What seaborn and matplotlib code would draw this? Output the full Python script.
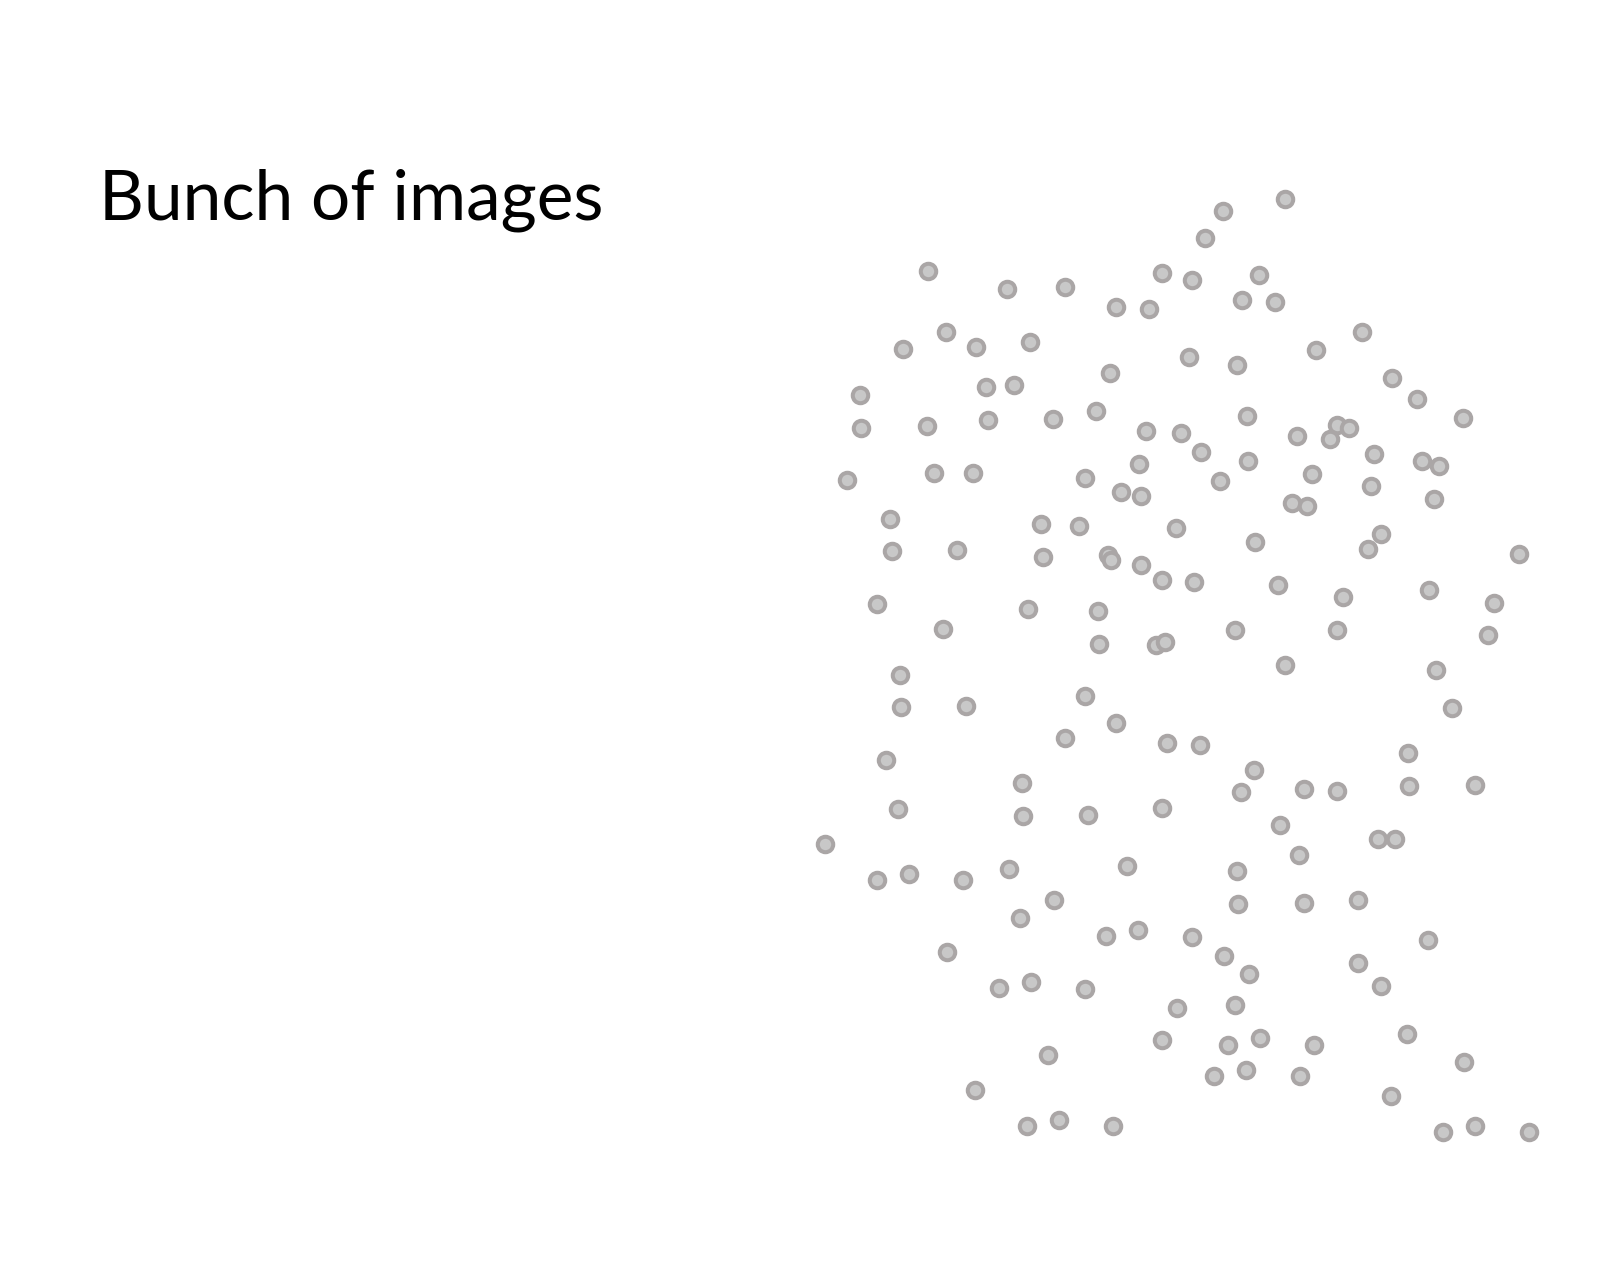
import matplotlib
matplotlib.use("Agg")
import matplotlib.pyplot as plt
import seaborn as sns

# positions of the image dots (pixels, y downwards)
img_x = [
    928, 1007, 1065, 1162, 1116, 1149, 946, 903, 976, 1030,
    1110, 860, 986, 1014, 861, 927, 988, 1053, 1096, 1146,
    1181, 847, 934, 973, 1085, 1139, 1121, 1141,
    1285, 1223, 1205, 1192, 1259, 1242, 1275, 1362, 1316, 1189,
    1237, 1392, 1417, 1463, 1247, 1337, 1349, 1330, 1297, 1201,
    1248, 1374, 1422, 1439, 1220, 1312, 1371, 1292, 1307, 1434,
    890, 1041, 1079, 1176, 892, 957, 1043, 1108, 1111, 1141,
    1162, 877, 1028, 1098, 943, 1099, 1156, 1165, 900, 901,
    966, 1085, 1116, 1065, 1167, 886, 1022, 898, 1023, 1088,
    1162,
    1381, 1368, 1519, 1255, 1194, 1278, 1343, 1429, 1494, 1235,
    1337, 1488, 1285, 1436, 1452, 1200, 1254, 1408, 1241, 1304,
    1337, 1409, 1475, 1280,
    825, 877, 909, 963, 1009, 1127, 1054, 1020, 1106, 1138,
    947, 999, 1031, 1085, 1177, 1162, 1048, 975, 1027, 1059,
    1113,
    1378, 1395, 1299, 1237, 1238, 1304, 1358, 1192, 1224, 1249,
    1428, 1358, 1381, 1235, 1228, 1260, 1314, 1407, 1464, 1214,
    1246, 1300, 1391, 1443, 1475, 1529,
]
img_y = [
    271, 289, 287, 273, 307, 309, 332, 349, 347, 342,
    373, 395, 387, 385, 428, 426, 420, 419, 411, 431,
    433, 480, 473, 473, 478, 464, 492, 496,
    199, 211, 238, 280, 275, 300, 302, 332, 350, 357,
    365, 378, 399, 418, 416, 425, 428, 439, 436, 452,
    461, 454, 461, 466, 481, 474, 486, 503, 506, 499,
    519, 524, 526, 528, 551, 550, 557, 555, 560, 565,
    580, 604, 609, 611, 629, 644, 645, 642, 675, 707,
    706, 696, 723, 738, 743, 760, 783, 809, 816, 815,
    808,
    534, 549, 554, 542, 582, 585, 597, 590, 603, 630,
    630, 635, 665, 670, 708, 745, 770, 753, 792, 789,
    791, 786, 785, 825,
    844, 880, 874, 880, 869, 866, 900, 918, 936, 930,
    952, 988, 982, 989, 1008, 1040, 1055, 1090, 1126, 1120,
    1126,
    839, 839, 855, 871, 904, 903, 900, 937, 956, 974,
    940, 963, 986, 1005, 1045, 1038, 1045, 1034, 1062, 1076,
    1070, 1076, 1096, 1132, 1126, 1132,
]

title = "Bunch of images"

W, H = 1604, 1287

sns.set_theme(style="white")
plt.rcParams['font.family'] = ['Lato', 'DejaVu Sans']

fig = plt.figure(figsize=(W / 100, H / 100), dpi=100)
ax = fig.add_axes([0, 0, 1, 1])

sns.scatterplot(x=img_x, y=img_y, ax=ax, s=124, color="#c8c8c8",
                edgecolor="#aaa6a6", linewidth=2.9, zorder=3)

ax.set_xlim(0, W)
ax.set_ylim(H, 0)
ax.axis('off')

fig.text(99 / W, 1 - 219 / H, title, fontsize=50, color="black",
         ha="left", va="baseline")

fig.savefig("out.png", dpi=100, facecolor="white")
